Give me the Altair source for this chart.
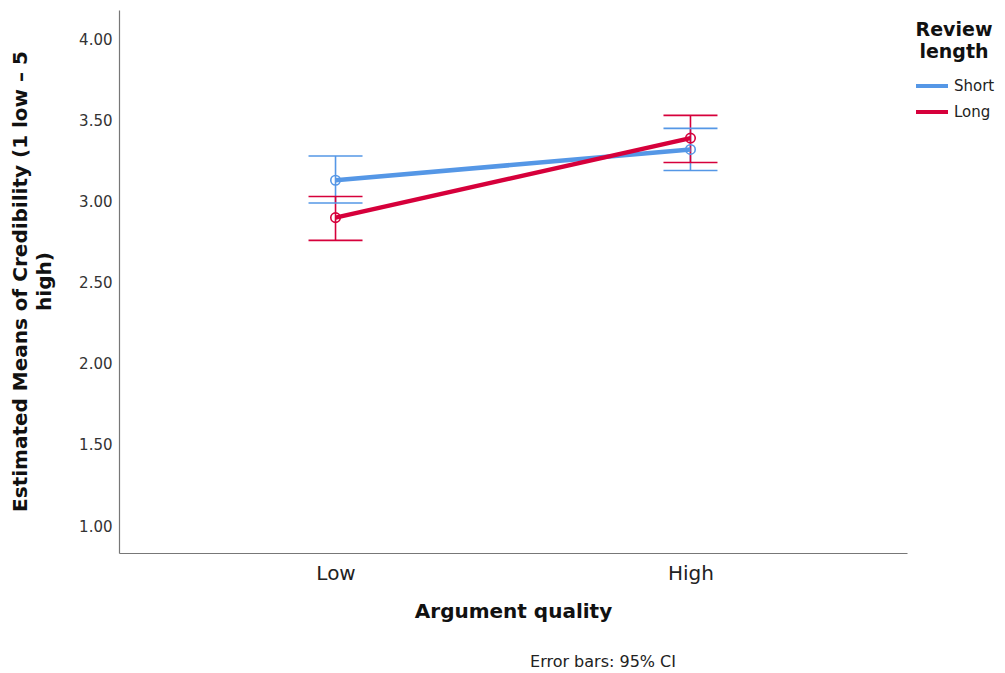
import altair as alt
import pandas as pd

quality = ["Low", "High", "Low", "High"]
length = ["Short", "Short", "Long", "Long"]
means = [3.13, 3.32, 2.90, 3.39]
ci_low = [2.99, 3.19, 2.76, 3.24]
ci_high = [3.28, 3.45, 3.03, 3.53]

df = pd.DataFrame({"q": quality, "len": length, "m": means, "lo": ci_low, "hi": ci_high})

blue = "#5597e6"
red = "#d6003b"

xenc = alt.X("q:N", sort=["Low", "High"],
             scale=alt.Scale(type="point", padding=0.61),
             axis=alt.Axis(title="Argument quality", labelAngle=0, labelFontSize=20,
                           labelFont="DejaVu Sans", labelColor="#222", labelPadding=10,
                           titleFontSize=20, titleFont="DejaVu Sans", titleFontWeight="bold",
                           titleColor="#111", titlePadding=18, ticks=False,
                           domainColor="#777", domainWidth=1.2))
yscale = alt.Scale(domain=[0.834, 4.179], nice=False, zero=False)
yenc = alt.Y("m:Q", scale=yscale,
             axis=alt.Axis(title=["Estimated Means of Credibility (1 low \u2013 5", "high)"],
                           values=[1, 1.5, 2, 2.5, 3, 3.5, 4], format=".2f",
                           labelFontSize=15, labelFont="DejaVu Sans", labelColor="#333",
                           labelPadding=7, ticks=False, grid=False,
                           domainColor="#777", domainWidth=1.2,
                           titleFontSize=20, titleFont="DejaVu Sans", titleFontWeight="bold",
                           titleColor="#111", titleX=-109, titleY=271,
                           titleBaseline="top", titleAlign="center", titleAngle=-90,
                           titleLineHeight=24))
color = alt.Color("len:N", scale=alt.Scale(domain=["Short", "Long"], range=[blue, red]),
                  legend=alt.Legend(title=["Review", "length"], orient="none",
                                    legendX=795, legendY=11,
                                    titleFontSize=19, titleFont="DejaVu Sans",
                                    titleFontWeight="bold", titleColor="#111",
                                    titleAlign="center", titleAnchor="middle",
                                    titleLineHeight=22, titlePadding=6,
                                    labelFontSize=15, labelFont="DejaVu Sans", labelColor="#222",
                                    symbolType="stroke", symbolSize=1024, symbolStrokeWidth=4,
                                    symbolOpacity=1,
                                    labelOffset=4, rowPadding=-8))

base = alt.Chart(df)
lines = base.mark_line(strokeWidth=4.5).encode(x=xenc, y=yenc, color=color, detail="len:N")
rules = base.mark_rule(strokeWidth=1.6).encode(x=xenc, y=alt.Y("lo:Q", scale=yscale), y2="hi:Q",
                                               color=color)
caps_lo = base.mark_tick(thickness=1.6, size=54, opacity=1).encode(
    x=xenc, y=alt.Y("lo:Q", scale=yscale), color=color)
caps_hi = base.mark_tick(thickness=1.6, size=54, opacity=1).encode(
    x=xenc, y=alt.Y("hi:Q", scale=yscale), color=color)
pts = base.mark_point(filled=False, size=90, strokeWidth=1.6, opacity=1).encode(
    x=xenc, y=yenc, color=color)

note = alt.Chart(pd.DataFrame({"t": ["Error bars: 95% CI"]})).mark_text(
    fontSize=16, font="DejaVu Sans", color="#222", align="center", baseline="middle"
).encode(text="t:N", x=alt.value(484), y=alt.value(652))

chart = alt.layer(rules, caps_lo, caps_hi, lines, pts, note).properties(
    width=788, height=543,
    background="white",
    autosize=alt.AutoSizeParams(type="none"),
    padding={"left": 111, "top": 2, "right": 90, "bottom": 120},
).configure_view(strokeWidth=0, stroke="transparent")

chart.save("out.html", embed_options={"renderer": "svg", "actions": False})
